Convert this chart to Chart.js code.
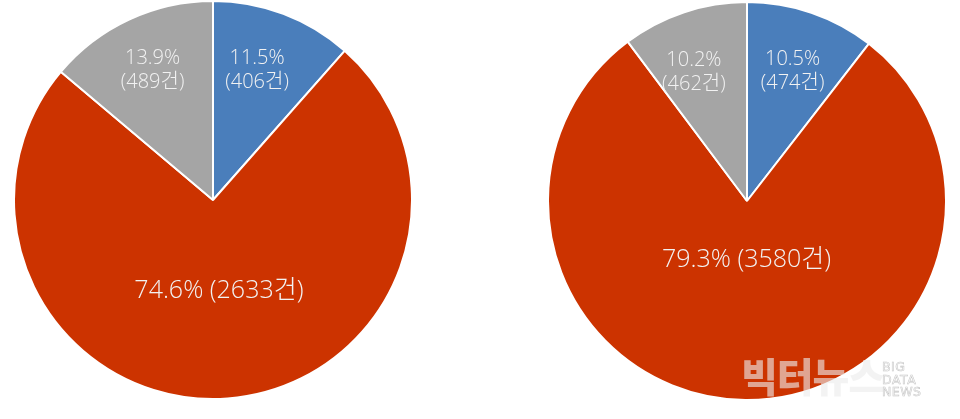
<!DOCTYPE html>
<html><head><meta charset="utf-8">
<script src="https://cdn.jsdelivr.net/npm/chart.js@4/dist/chart.umd.min.js"></script>
<style>
html,body{margin:0;padding:0;background:#fff;width:960px;height:419px;overflow:hidden;position:relative;font-family:"Noto Sans CJK KR","Noto Sans",sans-serif;}
.box{position:absolute;width:400px;height:400px;}
#wm{position:absolute;left:741px;top:350px;font-size:40px;font-weight:900;color:rgba(235,235,235,0.62);letter-spacing:-1px;line-height:50px;}
#wm2{position:absolute;left:882px;top:361px;font-size:12.5px;line-height:12.5px;letter-spacing:0.5px;color:rgba(255,255,255,0.9);-webkit-text-stroke:0.6px #c8c8c8;font-family:"DejaVu Sans",sans-serif;}
</style></head>
<body>
<div class="box" style="left:13px;top:0px;"><canvas id="c1"></canvas></div>
<div class="box" style="left:547px;top:1px;"><canvas id="c2"></canvas></div>
<div id="wm">빅터뉴스</div>
<div id="wm2">BIG<br>DATA<br>NEWS</div>
<script>
const categories = ["Blue", "Red", "Gray"];
const leftCounts = [406, 2633, 489];
const leftPercents = ["11.5%", "74.6%", "13.9%"];
const rightCounts = [474, 3580, 462];
const rightPercents = ["10.5%", "79.3%", "10.2%"];
const colors = ["#4a7ebb", "#cc3300", "#a5a5a5"];

// label placement style: fraction of radius, and extra angle (deg)
const leftLabelStyle = [{r:0.69,a:-2,two:true,size:20},{r:0.457,a:0.5,two:false,size:25},{r:0.72,a:0,two:true,size:20}];
const rightLabelStyle = [{r:0.69,a:0.5,two:true,size:20},{r:0.296,a:0,two:false,size:25},{r:0.70,a:-4,two:true,size:20}];

function makeLabelPlugin(counts, percents, styles){
  return {
    id:'sliceLabels',
    afterDatasetsDraw(chart){
      const ctx = chart.ctx;
      const meta = chart.getDatasetMeta(0);
      meta.data.forEach((arc,i)=>{
        const p = arc.getProps(['x','y','startAngle','endAngle','outerRadius']);
        const st = styles[i];
        const mid = (p.startAngle+p.endAngle)/2 + st.a*Math.PI/180;
        const rr = p.outerRadius*st.r;
        const x = p.x + Math.cos(mid)*rr;
        const y = p.y + Math.sin(mid)*rr;
        ctx.save();
        ctx.fillStyle = '#f2f2f2';
        ctx.textAlign='center';
        ctx.textBaseline='middle';
        ctx.font = '300 '+st.size+'px "Open Sans", "Noto Sans CJK KR", sans-serif';
        if(st.two){
          ctx.fillText(percents[i], x, y-12);
          ctx.fillText('('+counts[i]+'건)', x, y+12);
        } else {
          ctx.fillText(percents[i]+' ('+counts[i]+'건)', x, y);
        }
        ctx.restore();
      });
    }
  };
}

function makePie(id, counts, percents, styles){
  new Chart(document.getElementById(id), {
    type:'pie',
    data:{labels:categories, datasets:[{data:counts, backgroundColor:colors, borderColor:'#ffffff', borderWidth:2}]},
    options:{
      responsive:true, maintainAspectRatio:false, animation:false,
      layout:{padding:0},
      plugins:{legend:{display:false}, tooltip:{enabled:false}}
    },
    plugins:[makeLabelPlugin(counts, percents, styles)]
  });
}
makePie('c1', leftCounts, leftPercents, leftLabelStyle);
makePie('c2', rightCounts, rightPercents, rightLabelStyle);
</script>
</body></html>
